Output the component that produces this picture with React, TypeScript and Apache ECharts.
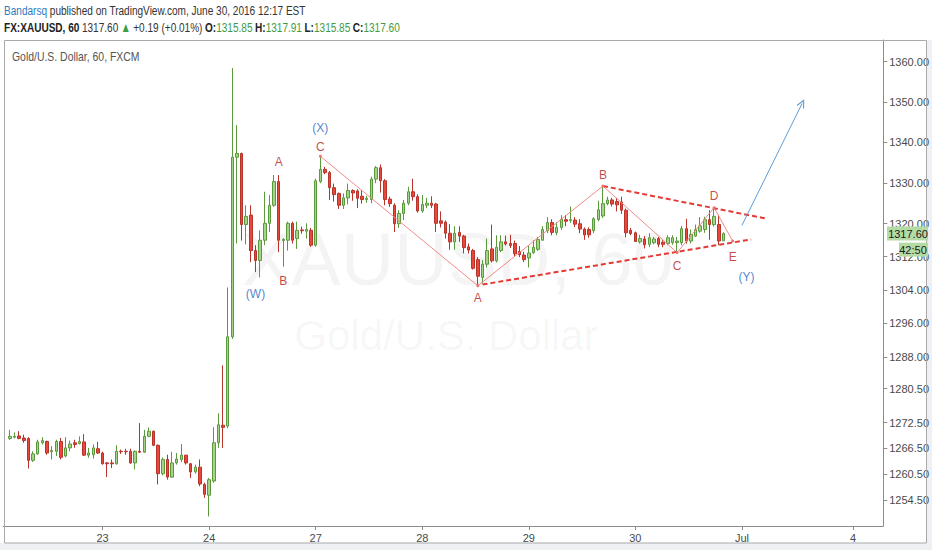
import React, { useEffect, useRef } from 'react';
import * as echarts from 'echarts';

// ---- candle data (XAUUSD, 60 min), one entry per hourly bar ----
const opens = [
  1268.8, 1269.1, 1269.4, 1268.9, 1268.8, 1263.7, 1265.2, 1267.8, 1268.1, 1265.7,
  1265.8, 1268.1, 1264.7, 1266.6, 1267.8, 1267.6, 1268.0, 1264.9, 1265.0, 1266.4,
  1265.4, 1263.1, 1263.1, 1262.9, 1265.8, 1265.8, 1265.8, 1263.1, 1265.8, 1265.6,
  1269.3, 1270.5, 1267.2, 1260.6, 1263.9, 1259.8, 1263.1, 1263.9, 1264.9, 1262.9,
  1261.0, 1262.1, 1258.1, 1255.6, 1258.9, 1267.8, 1271.9, 1271.7, 1292.8, 1336.3,
  1337.2, 1319.8, 1322.1, 1313.5, 1311.1, 1316.0, 1320.1, 1324.5, 1330.3, 1315.9,
  1316.0, 1320.1, 1316.4, 1318.5, 1318.2, 1318.4, 1314.8, 1330.3, 1333.3, 1332.5,
  1328.8, 1327.4, 1324.5, 1326.3, 1328.1, 1328.0, 1326.7, 1325.9, 1325.9, 1330.9,
  1333.7, 1330.5, 1326.0, 1324.5, 1320.0, 1322.5, 1325.0, 1327.8, 1326.6, 1323.1,
  1324.5, 1325.0, 1324.8, 1320.7, 1320.4, 1317.7, 1315.6, 1317.9, 1317.0, 1314.4,
  1313.5, 1311.3, 1307.0, 1310.2, 1313.9, 1311.0, 1313.5, 1315.6, 1315.2, 1315.2,
  1313.3, 1312.4, 1311.7, 1313.0, 1313.8, 1316.0, 1318.3, 1320.3, 1317.8, 1319.1,
  1321.0, 1320.8, 1320.9, 1320.0, 1318.7, 1318.6, 1318.3, 1321.0, 1321.9, 1324.9,
  1325.8, 1325.4, 1325.3, 1323.3, 1318.4, 1317.8, 1315.6, 1316.3, 1315.0, 1315.4,
  1316.4, 1315.5, 1315.2, 1315.4, 1315.4, 1315.4, 1318.8, 1315.8, 1317.0, 1318.2,
  1318.6, 1321.0, 1319.8, 1319.8, 1315.85,
];
const closes = [
  1269.3, 1269.3, 1268.8, 1268.3, 1263.7, 1265.2, 1268.0, 1268.3, 1265.4, 1266.0,
  1268.1, 1264.4, 1266.6, 1267.5, 1267.4, 1268.1, 1264.9, 1265.4, 1266.6, 1265.4,
  1262.9, 1262.9, 1262.9, 1265.8, 1265.7, 1265.7, 1263.1, 1265.8, 1265.6, 1269.3,
  1270.5, 1267.2, 1260.6, 1263.9, 1259.8, 1263.1, 1264.0, 1264.9, 1263.1, 1261.0,
  1262.1, 1258.2, 1255.8, 1259.2, 1267.8, 1272.0, 1271.4, 1292.8, 1336.3, 1337.2,
  1319.8, 1321.8, 1313.5, 1311.1, 1316.0, 1320.1, 1324.5, 1330.3, 1316.0, 1316.2,
  1320.1, 1316.0, 1318.4, 1318.3, 1318.6, 1314.8, 1330.5, 1333.3, 1332.5, 1328.8,
  1327.1, 1324.5, 1326.3, 1328.1, 1327.5, 1326.2, 1325.9, 1326.2, 1330.9, 1333.7,
  1330.5, 1325.9, 1324.9, 1320.0, 1322.5, 1325.0, 1327.8, 1326.6, 1323.1, 1324.7,
  1325.0, 1324.5, 1320.1, 1320.1, 1317.7, 1315.6, 1317.7, 1317.0, 1314.2, 1313.6,
  1309.2, 1307.3, 1310.2, 1313.5, 1311.0, 1314.3, 1315.6, 1315.1, 1314.7, 1312.7,
  1312.5, 1311.3, 1312.9, 1314.3, 1316.2, 1318.6, 1320.3, 1317.9, 1319.1, 1321.1,
  1320.6, 1321.0, 1319.9, 1318.7, 1317.3, 1317.3, 1321.2, 1323.4, 1324.9, 1325.8,
  1324.8, 1324.6, 1323.3, 1317.8, 1317.6, 1315.7, 1316.4, 1314.9, 1316.6, 1316.3,
  1315.0, 1315.0, 1316.6, 1316.6, 1315.8, 1318.8, 1315.8, 1317.4, 1318.6, 1319.5,
  1321.0, 1319.8, 1321.8, 1315.8, 1317.60,
];
const lows = [
  1268.5, 1268.8, 1268.6, 1267.8, 1261.8, 1263.3, 1265.0, 1267.4, 1265.0, 1263.9,
  1264.7, 1263.9, 1264.4, 1265.8, 1266.6, 1267.4, 1264.7, 1264.3, 1264.1, 1265.2,
  1262.7, 1259.8, 1261.9, 1262.7, 1265.2, 1265.0, 1262.9, 1261.6, 1265.4, 1265.4,
  1269.1, 1267.0, 1258.1, 1260.2, 1259.2, 1259.6, 1262.7, 1263.3, 1262.7, 1259.6,
  1260.6, 1257.7, 1255.0, 1250.7, 1258.5, 1266.6, 1266.6, 1271.2, 1292.3, 1315.2,
  1315.9, 1315.0, 1310.7, 1308.3, 1307.0, 1314.8, 1318.0, 1324.1, 1313.1, 1309.6,
  1313.5, 1315.2, 1313.9, 1317.6, 1316.4, 1314.4, 1314.4, 1329.9, 1332.1, 1325.8,
  1325.4, 1323.6, 1323.6, 1324.7, 1325.6, 1323.8, 1324.9, 1325.1, 1325.0, 1329.9,
  1327.6, 1324.5, 1324.1, 1318.0, 1319.0, 1320.9, 1324.5, 1325.6, 1322.7, 1322.7,
  1323.8, 1323.8, 1318.0, 1319.1, 1316.4, 1313.7, 1313.7, 1315.6, 1312.8, 1312.8,
  1308.9, 1305.1, 1305.5, 1309.4, 1310.6, 1310.6, 1313.1, 1314.7, 1314.1, 1312.0,
  1311.9, 1310.7, 1309.4, 1312.7, 1313.4, 1315.9, 1317.7, 1317.2, 1317.2, 1318.5,
  1319.4, 1320.2, 1319.2, 1317.7, 1316.1, 1316.6, 1317.7, 1320.6, 1321.4, 1324.5,
  1324.2, 1323.0, 1322.4, 1316.7, 1317.2, 1315.6, 1315.2, 1314.0, 1314.3, 1315.0,
  1314.3, 1314.3, 1314.8, 1314.9, 1313.0, 1314.8, 1315.2, 1315.2, 1316.8, 1317.8,
  1317.8, 1316.1, 1319.3, 1314.8, 1315.85,
];
const highs = [
  1270.8, 1270.2, 1270.5, 1269.7, 1269.1, 1265.8, 1268.5, 1269.1, 1268.3, 1267.0,
  1268.5, 1268.9, 1269.1, 1268.3, 1268.5, 1269.3, 1269.8, 1266.6, 1267.4, 1268.0,
  1265.7, 1263.3, 1263.9, 1267.2, 1266.2, 1266.4, 1266.4, 1266.0, 1272.4, 1270.8,
  1271.4, 1270.6, 1267.4, 1264.4, 1265.0, 1265.7, 1265.4, 1267.5, 1265.0, 1263.1,
  1262.7, 1263.9, 1258.5, 1259.6, 1271.4, 1274.7, 1286.0, 1304.6, 1358.4, 1344.2,
  1337.4, 1324.5, 1324.5, 1314.8, 1318.4, 1327.8, 1327.0, 1331.9, 1331.9, 1316.5,
  1320.5, 1320.5, 1320.5, 1319.3, 1320.1, 1319.0, 1331.0, 1336.5, 1333.9, 1332.9,
  1329.8, 1327.6, 1327.4, 1329.8, 1328.4, 1328.4, 1328.2, 1326.8, 1331.5, 1334.1,
  1334.5, 1330.9, 1326.6, 1325.0, 1323.3, 1325.8, 1329.0, 1331.0, 1327.2, 1327.0,
  1326.3, 1326.7, 1325.1, 1323.0, 1320.8, 1319.9, 1319.4, 1319.4, 1317.3, 1315.2,
  1313.9, 1311.9, 1311.2, 1316.4, 1319.8, 1317.2, 1317.2, 1317.1, 1317.3, 1315.9,
  1314.6, 1313.2, 1314.6, 1316.0, 1316.8, 1319.4, 1321.6, 1321.1, 1320.3, 1322.1,
  1322.1, 1324.2, 1321.6, 1321.1, 1319.1, 1319.1, 1321.6, 1325.6, 1329.2, 1326.6,
  1326.3, 1326.3, 1326.6, 1323.7, 1319.0, 1318.1, 1317.3, 1317.0, 1317.7, 1316.8,
  1316.8, 1316.0, 1317.2, 1317.2, 1316.8, 1319.5, 1321.2, 1318.6, 1319.8, 1321.6,
  1321.7, 1323.3, 1323.9, 1322.2, 1317.91,
];

// ---- axes ----
const slotCount = 190; // hourly slots shown on the time axis (incl. future space)
const leadSlots = 1; // empty slot before the first bar
const dayTickBars = [20, 43, 66, 89, 112, 135, 158, 182];
const dayTickLabels = ['23', '24', '27', '28', '29', '30', 'Jul', '4'];
const priceTicks = [1254.5, 1260.5, 1266.5, 1272.5, 1280.5, 1288, 1296, 1304, 1312, 1320, 1330, 1340, 1350, 1360];
const priceMin = 1248.5;
const priceMax = 1365.45;

// ---- drawings (bar index, price) ----
const waveBars = [67, 101, 128, 144, 152, 156];
const wavePrices = [1336.5, 1305.0, 1329.2, 1313.0, 1323.9, 1315.8];
const lowerTrendBars = [102, 160];
const lowerTrendPrices = [1305.3, 1316.2];
const upperTrendBars = [128, 163];
const upperTrendPrices = [1329.2, 1321.3];
const arrowBars = [158, 171];
const arrowPrices = [1319.6, 1349.6];
const redLabelTexts = ['C', 'A', 'B', 'A', 'B', 'C', 'D', 'E'];
const redLabelBars = [67, 58, 59, 101, 128, 144, 152, 156];
const redLabelPrices = [1338.9, 1335.0, 1306.1, 1302.0, 1332.0, 1309.8, 1326.7, 1312.0];
const blueLabelTexts = ['(X)', '(W)', '(Y)'];
const blueLabelBars = [67, 53, 159];
const blueLabelPrices = [1343.5, 1303.1, 1307.1];

const lastPrice = 1317.6;
const countdown = '42:50';

const NARROW = "'Liberation Sans Narrow', 'Liberation Sans', Arial, sans-serif";
const SANS = "'Liberation Sans', Arial, sans-serif";

export default function App() {
  const ref = useRef<HTMLDivElement>(null);

  useEffect(() => {
    if (!ref.current) return;
    const chart = echarts.init(ref.current, null, { renderer: 'svg', width: 932, height: 550 });

    const cats = Array.from({ length: slotCount }, (_, k) => String(k));
    const labelAt: Record<number, string> = {};
    dayTickBars.forEach((b, j) => (labelAt[b + leadSlots] = dayTickLabels[j]));

    const candleData: any[] = [];
    for (let k = 0; k < leadSlots; k++) candleData.push('-');
    opens.forEach((o, i) => candleData.push([o, closes[i], lows[i], highs[i]]));

    const pts = (bars: number[], prices: number[]) => bars.map((b, j) => [b + leadSlots, prices[j]]);
    const lbl = (texts: string[], bars: number[], prices: number[]) =>
      bars.map((b, j) => [b + leadSlots, prices[j], texts[j]]);

    const axisGrey = '#8c8c8c';

    chart.setOption({
      animation: false,
      backgroundColor: '#ffffff',
      grid: { left: 3, right: 45, top: 40, bottom: 24, containLabel: false },
      xAxis: {
        type: 'category',
        data: cats,
        boundaryGap: true,
        axisLine: { show: true, lineStyle: { color: axisGrey, width: 1 } },
        axisTick: {
          show: true,
          alignWithLabel: true,
          length: 4,
          interval: (idx: number) => labelAt[idx] !== undefined,
          lineStyle: { color: axisGrey },
        },
        axisLabel: {
          show: true,
          interval: (idx: number) => labelAt[idx] !== undefined,
          formatter: (_v: string, idx: number) => labelAt[idx] ?? '',
          color: '#4a4a4a',
          fontSize: 11,
          fontFamily: NARROW,
          margin: 6,
        },
        splitLine: { show: false },
      },
      yAxis: {
        type: 'log',
        logBase: 10,
        position: 'right',
        min: priceMin,
        max: priceMax,
        axisLine: { show: true, lineStyle: { color: axisGrey, width: 1 } },
        axisTick: { show: true, length: 4, customValues: priceTicks, lineStyle: { color: axisGrey } },
        axisLabel: {
          show: true,
          customValues: priceTicks,
          formatter: (v: number) => Number(v).toFixed(2),
          color: '#4a4a4a',
          fontSize: 11,
          fontFamily: NARROW,
          margin: 6,
        },
        splitLine: { show: false },
      },
      series: [
        {
          type: 'candlestick',
          data: candleData,
          barWidth: 3,
          silent: true,
          itemStyle: {
            color: '#a6d38a',
            color0: '#e8473b',
            borderColor: '#5a9a3c',
            borderColor0: '#b8342a',
            borderColorDoji: '#b8342a',
            borderWidth: 1,
          },
          markLine: {
            silent: true,
            symbol: ['none', 'path://M5,0 L10,9 L9,10 L5,2.6 L1,10 L0,9 Z'],
            symbolSize: [8, 9],
            label: { show: false },
            lineStyle: { color: '#5b9bd8', width: 1, type: 'solid' },
            data: [
              [
                { coord: [arrowBars[0] + leadSlots, arrowPrices[0]] },
                { coord: [arrowBars[1] + leadSlots, arrowPrices[1]] },
              ],
            ],
          },
        },
        {
          type: 'line',
          data: pts(waveBars, wavePrices),
          silent: true,
          symbol: 'circle',
          symbolSize: 3,
          lineStyle: { color: '#f08a8a', width: 1 },
          itemStyle: { color: '#ea7272' },
          z: 3,
        },
        {
          type: 'line',
          data: pts(lowerTrendBars, lowerTrendPrices),
          silent: true,
          symbol: 'none',
          lineStyle: { color: '#e53935', width: 2, type: [5, 3] },
          z: 3,
        },
        {
          type: 'line',
          data: pts(upperTrendBars, upperTrendPrices),
          silent: true,
          symbol: 'none',
          lineStyle: { color: '#e53935', width: 2, type: [5, 3] },
          z: 3,
        },
        {
          type: 'scatter',
          data: lbl(redLabelTexts, redLabelBars, redLabelPrices),
          silent: true,
          symbolSize: 1,
          itemStyle: { color: 'rgba(0,0,0,0)' },
          label: {
            show: true,
            position: 'inside',
            formatter: (p: any) => p.value[2],
            color: '#b71c1c',
            fontSize: 12,
            fontFamily: NARROW,
          },
          z: 4,
        },
        {
          type: 'scatter',
          data: lbl(blueLabelTexts, blueLabelBars, blueLabelPrices),
          silent: true,
          symbolSize: 1,
          itemStyle: { color: 'rgba(0,0,0,0)' },
          label: {
            show: true,
            position: 'inside',
            formatter: (p: any) => p.value[2],
            color: '#1f63c2',
            fontSize: 12,
            fontFamily: NARROW,
          },
          z: 4,
        },
      ],
    });

    const yLast = chart.convertToPixel({ yAxisIndex: 0 }, lastPrice) as number;

    chart.setOption({
      graphic: {
        elements: [
          { type: 'rect', z: -10, silent: true, shape: { x: 0, y: 543, width: 932, height: 7 }, style: { fill: '#eef0f3' } },
          { type: 'rect', z: -10, silent: true, shape: { x: 927, y: 40, width: 5, height: 510 }, style: { fill: '#eef0f3' } },
          {
            type: 'rect', z: 1, silent: true,
            shape: { x: 4.5, y: 40.5, width: 922, height: 502.5 },
            style: { fill: 'none', stroke: '#a9a9a9', lineWidth: 1 },
          },
          {
            type: 'text', z: 0, silent: true, x: 458, y: 259,
            style: {
              text: 'XAUUSD, 60', fill: 'rgba(0,0,0,0.045)', fontSize: 74, fontFamily: SANS,
              align: 'center', verticalAlign: 'middle',
            },
          },
          {
            type: 'text', z: 0, silent: true, x: 446, y: 335,
            style: {
              text: 'Gold/U.S. Dollar', fill: 'rgba(0,0,0,0.045)', fontSize: 42, fontFamily: SANS,
              align: 'center', verticalAlign: 'middle',
            },
          },
          {
            type: 'text', z: 10, silent: true, x: 4, y: 10, scaleX: 0.745,
            style: {
              text: '{a|Bandarsq}{b| published on TradingView.com, June 30, 2016 12:17 EST}',
              verticalAlign: 'middle',
              rich: {
                a: { fill: '#2b7bbf', fontSize: 13.5, fontFamily: SANS },
                b: { fill: '#333333', fontSize: 13.5, fontFamily: SANS },
              },
            },
          },
          {
            type: 'text', z: 10, silent: true, x: 4, y: 27, scaleX: 0.745,
            style: {
              text:
                '{k|FX:XAUUSD, 60} {n|1317.60} {g|▲} {n|+0.19 (+0.01%)} {k|O:}{g|1315.85} {k|H:}{g|1317.91} {k|L:}{g|1315.85} {k|C:}{g|1317.60}',
              verticalAlign: 'middle',
              rich: {
                k: { fill: '#222222', fontSize: 13.5, fontFamily: SANS, fontWeight: 'bold' },
                n: { fill: '#333333', fontSize: 13.5, fontFamily: SANS },
                g: { fill: '#3f9c42', fontSize: 13.5, fontFamily: SANS },
              },
            },
          },
          {
            type: 'text', z: 10, silent: true, x: 12, y: 57, scaleX: 0.87,
            style: { text: 'Gold/U.S. Dollar, 60, FXCM', fill: '#555555', fontSize: 12, fontFamily: SANS, verticalAlign: 'middle' },
          },
          {
            type: 'rect', z: 20, silent: true,
            shape: { x: 887, y: yLast - 7, width: 41, height: 14 },
            style: { fill: '#b5dba5' },
          },
          {
            type: 'text', z: 21, silent: true, x: 908, y: yLast,
            style: { text: lastPrice.toFixed(2), fill: '#1a1a1a', fontSize: 11, fontFamily: NARROW, align: 'center', verticalAlign: 'middle' },
          },
          {
            type: 'rect', z: 20, silent: true,
            shape: { x: 899, y: yLast + 9, width: 29, height: 14 },
            style: { fill: '#b5dba5' },
          },
          {
            type: 'text', z: 21, silent: true, x: 913, y: yLast + 16,
            style: { text: countdown, fill: '#1a1a1a', fontSize: 11, fontFamily: NARROW, align: 'center', verticalAlign: 'middle' },
          },
        ],
      },
    });

    return () => chart.dispose();
  }, []);

  return <div ref={ref} style={{ position: 'fixed', left: 0, top: 0, width: 932, height: 550 }} />;
}
